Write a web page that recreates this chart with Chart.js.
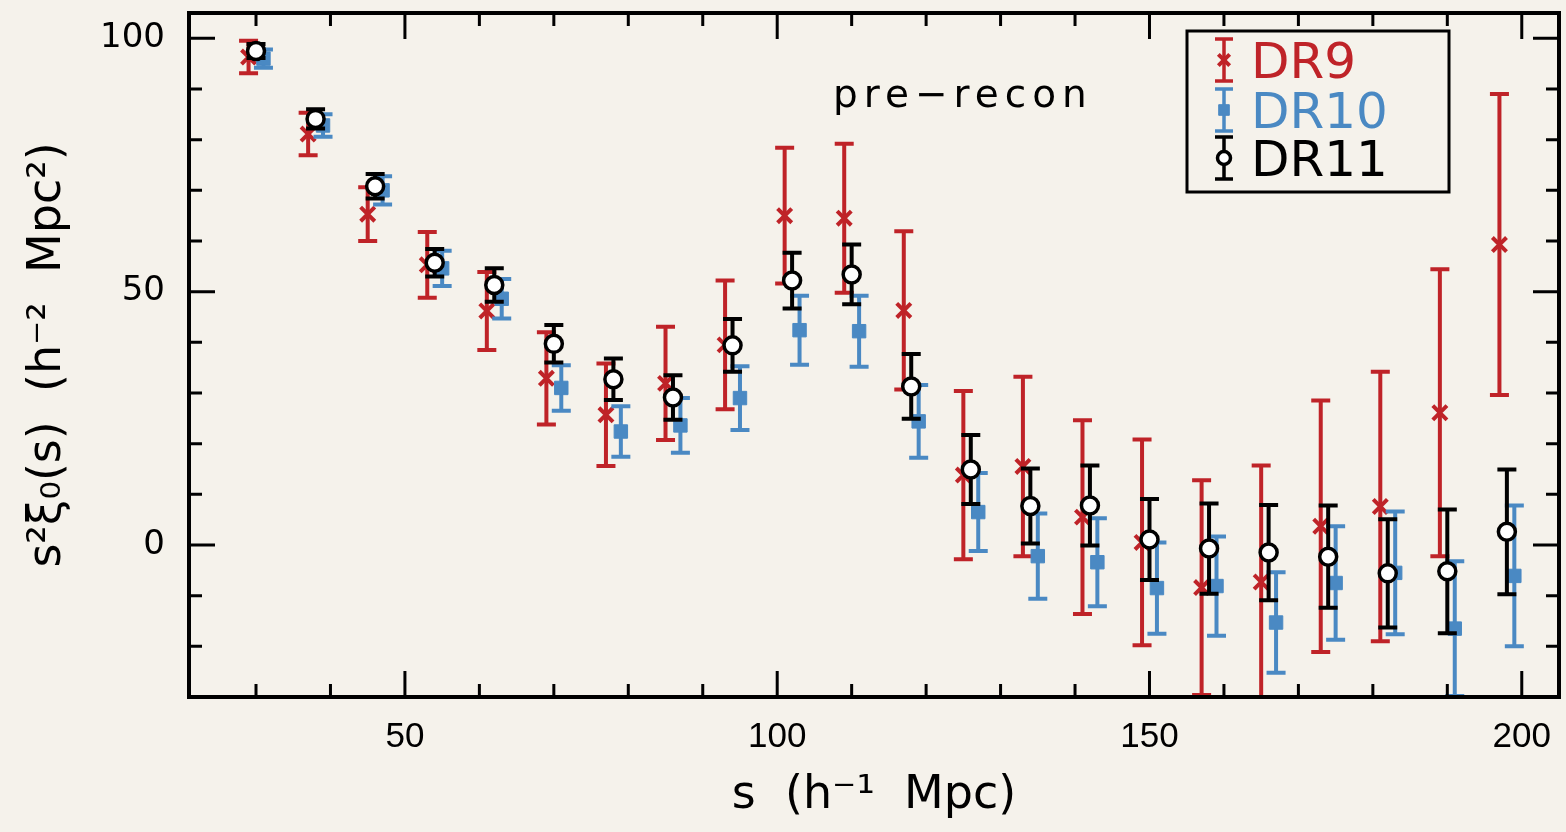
<!DOCTYPE html>
<html>
<head>
<meta charset="utf-8">
<title>s^2 xi_0(s) pre-recon</title>
<script src="https://cdn.jsdelivr.net/npm/chart.js@4.4.1/dist/chart.umd.min.js"></script>
<style>
    html, body { margin: 0; padding: 0; background: #f5f2eb; }
    #xiChart { display: block; }
</style>
</head>
<body>
<canvas id="xiChart" width="1566" height="832"></canvas>
<script>
// bin centres in h^-1 Mpc
var sBins = [30, 38, 46, 54, 62, 70, 78, 86, 94, 102, 110, 118, 126, 134, 142, 150, 158, 166, 174, 182, 190, 198];

var dr9Xi  = [96.3, 81.1, 65.3, 55.3, 46.2, 32.9, 25.7, 31.9, 39.5, 65.0, 64.5, 46.3, 13.8, 15.5, 5.5, 0.5, -8.4, -7.3, 3.7, 7.6, 26.1, 59.3];
var dr9Err = [3.2, 4.2, 5.3, 6.5, 7.7, 9.1, 10.1, 11.2, 12.7, 13.4, 14.7, 15.6, 16.6, 17.7, 19.1, 20.3, 21.2, 23.0, 24.8, 26.6, 28.3, 29.7];

var dr10Xi  = [96.0, 82.8, 70.0, 54.6, 48.6, 31.0, 22.4, 23.6, 29.0, 42.4, 42.2, 24.4, 6.5, -2.2, -3.4, -8.5, -8.1, -15.3, -7.5, -5.5, -16.5, -6.1];
var dr10Err = [1.8, 2.2, 2.8, 3.5, 3.9, 4.5, 5.0, 5.4, 6.3, 6.8, 7.0, 7.2, 7.7, 8.4, 8.7, 9.0, 9.8, 9.9, 11.2, 12.1, 13.3, 13.9];

var dr11Xi  = [97.5, 84.1, 70.8, 55.7, 51.3, 39.7, 32.7, 29.1, 39.4, 52.2, 53.4, 31.3, 14.9, 7.7, 7.8, 1.1, -0.7, -1.5, -2.3, -5.6, -5.2, 2.6];
var dr11Err = [1.4, 1.9, 2.4, 2.7, 3.3, 3.7, 4.1, 4.4, 5.2, 5.5, 5.9, 6.4, 6.8, 7.4, 7.9, 8.0, 8.9, 9.4, 10.1, 10.7, 12.2, 12.3];

// DR9 and DR10 are shifted sideways by this much so the bars don't overlap
var binShift = 1;

var xTickValues = [50, 100, 150, 200];
var yTickValues = [0, 50, 100];

var RED = "#bf2328";
var BLUE = "#4a89c3";
var BLACK = "#000000";

function toPoints(vals, shift) {
    return sBins.map(function (s, i) {
        return { x: s + shift, y: vals[i] };
    });
}

// vertical error bars with caps, drawn right before each dataset's markers
var errorBarPlugin = {
    id: "errorBars",
    beforeDatasetDraw: function (chart, args) {
        var ds = chart.data.datasets[args.index];
        if (!ds.errors) return;
        var ctx = chart.ctx;
        var xs = chart.scales.x, ys = chart.scales.y;
        var area = chart.chartArea;
        var cap = 9.5;
        ctx.save();
        ctx.strokeStyle = ds.borderColor;
        ctx.lineWidth = 4;
        ds.data.forEach(function (p, i) {
            var x = xs.getPixelForValue(p.x);
            var yTop = Math.max(area.top, ys.getPixelForValue(p.y + ds.errors[i]));
            var yBot = Math.min(area.bottom, ys.getPixelForValue(p.y - ds.errors[i]));
            ctx.beginPath();
            ctx.moveTo(x, yTop);
            ctx.lineTo(x, yBot);
            ctx.moveTo(x - cap, yTop);
            ctx.lineTo(x + cap, yTop);
            ctx.moveTo(x - cap, yBot);
            ctx.lineTo(x + cap, yBot);
            ctx.stroke();
        });
        ctx.restore();
    }
};

// closed frame with inward ticks on all four sides
var framePlugin = {
    id: "frame",
    afterDatasetsDraw: function (chart) {
        var ctx = chart.ctx;
        var a = chart.chartArea;
        var xs = chart.scales.x, ys = chart.scales.y;
        var major = 26, minor = 13;
        ctx.save();
        ctx.strokeStyle = BLACK;
        ctx.lineWidth = 3;
        ctx.beginPath();
        for (var v = Math.ceil(xs.min / 10) * 10; v <= xs.max; v += 10) {
            var px = xs.getPixelForValue(v);
            var len = v % 50 === 0 ? major : minor;
            ctx.moveTo(px, a.bottom);
            ctx.lineTo(px, a.bottom - len);
            ctx.moveTo(px, a.top);
            ctx.lineTo(px, a.top + len);
        }
        for (var w = Math.ceil(ys.min / 10) * 10; w <= ys.max; w += 10) {
            var py = ys.getPixelForValue(w);
            var l2 = w % 50 === 0 ? major : minor;
            ctx.moveTo(a.left, py);
            ctx.lineTo(a.left + l2, py);
            ctx.moveTo(a.right, py);
            ctx.lineTo(a.right - l2, py);
        }
        ctx.stroke();
        ctx.lineWidth = 4;
        ctx.strokeRect(a.left, a.top, a.right - a.left, a.bottom - a.top);
        ctx.restore();
    }
};

// boxed legend with error bar symbols, plus the "pre-recon" note
var legendBoxPlugin = {
    id: "legendBox",
    afterDraw: function (chart) {
        var ctx = chart.ctx;
        var a = chart.chartArea;
        ctx.save();

        ctx.font = "39px 'DejaVu Sans'";
        ctx.letterSpacing = "6px";
        ctx.fillStyle = BLACK;
        ctx.textAlign = "left";
        ctx.textBaseline = "alphabetic";
        ctx.fillText("pre\u2212recon", a.left + 644, a.top + 94);
        ctx.letterSpacing = "0px";

        var bx = a.right - 372, by = a.top + 18, bw = 262, bh = 161;
        ctx.strokeStyle = BLACK;
        ctx.lineWidth = 3;
        ctx.strokeRect(bx, by, bw, bh);

        var symX = bx + 37, textX = bx + 64;
        var rowY = [by + 29, by + 79, by + 127];
        ctx.font = "50px 'DejaVu Sans'";
        chart.data.datasets.forEach(function (ds, i) {
            var cy = rowY[i];
            ctx.strokeStyle = ds.borderColor;
            ctx.lineWidth = 3.5;
            ctx.beginPath();
            ctx.moveTo(symX, cy - 21);
            ctx.lineTo(symX, cy + 21);
            ctx.moveTo(symX - 9, cy - 21);
            ctx.lineTo(symX + 9, cy - 21);
            ctx.moveTo(symX - 9, cy + 21);
            ctx.lineTo(symX + 9, cy + 21);
            ctx.stroke();
            ctx.fillStyle = ds.backgroundColor;
            ctx.lineWidth = ds.borderWidth;
            Chart.helpers.drawPoint(ctx, {
                pointStyle: ds.pointStyle,
                radius: ds.pointRadius - 2,
                borderWidth: ds.borderWidth,
                rotation: 0
            }, symX, cy);
            ctx.fillStyle = ds.borderColor;
            ctx.fillText(ds.label, textX, cy + 18);
        });
        ctx.restore();
    }
};

// keep the plot box where the reference has it: no extra label overhang
function noOverhang(scale) {
    scale.paddingTop = 0;
    scale.paddingBottom = 0;
    scale.paddingLeft = 0;
    scale.paddingRight = 0;
}

function renderXiChart() {
    var ctx = document.getElementById("xiChart").getContext("2d");

    new Chart(ctx, {
        type: "scatter",
        data: {
            datasets: [
                {
                    label: "DR9",
                    data: toPoints(dr9Xi, -binShift),
                    errors: dr9Err,
                    pointStyle: "crossRot",
                    pointRadius: 10,
                    borderWidth: 4,
                    borderColor: RED,
                    backgroundColor: RED,
                    order: 3
                },
                {
                    label: "DR10",
                    data: toPoints(dr10Xi, binShift),
                    errors: dr10Err,
                    pointStyle: "rect",
                    pointRadius: 9.5,
                    borderWidth: 1,
                    borderColor: BLUE,
                    backgroundColor: BLUE,
                    order: 2
                },
                {
                    label: "DR11",
                    data: toPoints(dr11Xi, 0),
                    errors: dr11Err,
                    pointStyle: "circle",
                    pointRadius: 8.5,
                    borderWidth: 3.5,
                    borderColor: BLACK,
                    backgroundColor: "#ffffff",
                    order: 1
                }
            ]
        },
        options: {
            responsive: false,
            animation: false,
            layout: {
                autoPadding: false,
                padding: { top: 13, right: 7, left: 0, bottom: 0 }
            },
            plugins: {
                legend: { display: false },
                tooltip: { enabled: false }
            },
            scales: {
                x: {
                    type: "linear",
                    min: 21,
                    max: 205,
                    // tick marks are drawn by the frame plugin; tickLength only spaces the labels
                    grid: { display: false, drawTicks: true, tickLength: 19 },
                    border: { display: false },
                    afterBuildTicks: function (scale) {
                        scale.ticks = xTickValues.map(function (v) { return { value: v }; });
                    },
                    afterFit: function (scale) {
                        scale.height = 135;
                        noOverhang(scale);
                    },
                    ticks: {
                        color: BLACK,
                        padding: 0,
                        maxRotation: 0,
                        font: { family: "'Liberation Sans', Arial, sans-serif", size: 35 }
                    },
                    title: {
                        display: true,
                        text: "s  (h\u207B\u00B9  Mpc)",
                        color: BLACK,
                        padding: { top: 0, bottom: 8 },
                        font: { family: "'DejaVu Sans', sans-serif", size: 46 }
                    }
                },
                y: {
                    type: "linear",
                    min: -30,
                    max: 105,
                    grid: { display: false, drawTicks: true, tickLength: 24 },
                    border: { display: false },
                    afterBuildTicks: function (scale) {
                        scale.ticks = yTickValues.map(function (v) { return { value: v }; });
                    },
                    afterFit: function (scale) {
                        scale.width = 189;
                        noOverhang(scale);
                    },
                    ticks: {
                        color: BLACK,
                        padding: 0,
                        font: { family: "'DejaVu Sans', sans-serif", size: 34 }
                    },
                    title: {
                        display: true,
                        text: "s\u00B2\u03BE\u2080(s)  (h\u207B\u00B2  Mpc\u00B2)",
                        color: BLACK,
                        padding: { top: 20, bottom: 0 },
                        font: { family: "'DejaVu Sans', sans-serif", size: 46 }
                    }
                }
            }
        },
        plugins: [errorBarPlugin, framePlugin, legendBoxPlugin]
    });
}

document.addEventListener("DOMContentLoaded", function () {
    renderXiChart();
});
</script>
</body>
</html>
